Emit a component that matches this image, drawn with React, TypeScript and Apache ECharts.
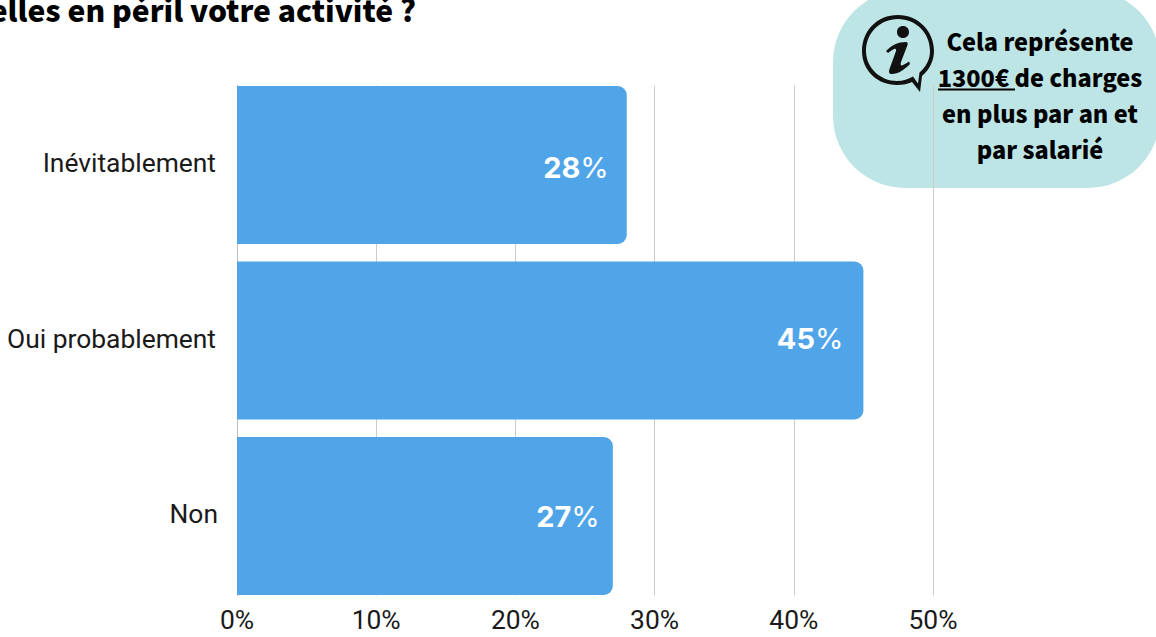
import React, { useEffect, useRef } from "react";
import * as echarts from "echarts";

const categories = ["Inévitablement", "Oui probablement", "Non"];
const values = [28, 45, 27];
const xTicks = [0, 10, 20, 30, 40, 50];
const titleText = "elles en péril votre activité ?";
const noteLines = ["Cela représente", "1300€ de charges", "en plus par an et", "par salarié"];

// Per-item nudges seen in the picture
const labelDistance = [18, 20, 13];
const labelDy = [2, -2, 0];
const catPadding = [[0, 0, 4, 0], [0, 0, 4, 0], [0, 0, 4, 0]];
const catDx = [0, 0, -2];

const ICON_D =
  "M898 15 C877 15 862 31 862 51 C862 71 878 85 897 85 C903 85 908 84 912 82 L920 92 L922 76 C930 69 934 60 934 51 C934 31 918 15 898 15 Z " +
  "M898 19 C916 19 930 33 930 51 C930 59 926.500 66.500 919.500 72.500 L918 83.500 L913 76.500 C908.500 79 903 81 897 81 C880 81 866 67.500 866 51 C866 33 880 19 898 19 Z " +
  "M903 26 C906.500 26 909 28.500 909 32 C909 35.500 906.500 38 903 38 C899.500 38 897 35.500 897 32 C897 28.500 899.500 26 903 26 Z " +
  "M886 51 C892 45 898 42 906 42 C907.500 42 908 43 907.500 45 L901 62 C900 65 901 66 903 65 C905 64 907 63 909 61.500 L910 64 C904 70 898 74 892 74 C889 74 888.500 72 889.500 69 L896 51 C896.500 49 895.500 48.500 894 49 C892 50 890 51.500 888 53 Z";

echarts.graphic.registerShape("infoIcon", echarts.graphic.extendPath(ICON_D, {}));

const labelFont = "Roboto";
const noteFont = "'Noto Sans CJK SC'";
const axisFontSize = 26.4;

export default function App() {
  const ref = useRef<HTMLDivElement>(null);
  useEffect(() => {
    const chart = echarts.init(ref.current!, undefined, { renderer: "svg" });
    const noteY = [41, 77, 113, 149];
    chart.setOption({
      animation: false,
      backgroundColor: "#ffffff",
      grid: [
        { left: 237, top: 77.25, width: 696, height: 526.5 },
        { left: 237, top: 85.5, width: 696, height: 510 },
      ],
      xAxis: [
        { type: "value", gridIndex: 0, min: 0, max: 50, interval: 10, show: false },
        {
          type: "value",
          gridIndex: 1,
          min: xTicks[0],
          max: xTicks[xTicks.length - 1],
          interval: 10,
          axisLine: { show: false },
          axisTick: { show: false },
          splitLine: { show: true, lineStyle: { color: "#cccccc", width: 1 } },
          axisLabel: {
            formatter: "{value}%",
            fontFamily: labelFont,
            fontSize: axisFontSize,
            color: "#1a1a1a",
            margin: 11,
          },
        },
      ],
      yAxis: [
        {
          type: "category",
          gridIndex: 0,
          inverse: true,
          data: categories.map((c, i) => ({
            value: c,
            textStyle: { padding: catPadding[i] },
          })),
          axisLine: { show: false },
          axisTick: { show: false },
          splitLine: { show: false },
          axisLabel: {
            fontFamily: labelFont,
            fontSize: axisFontSize,
            color: "#1a1a1a",
            margin: 21,
            formatter: (v: string) => {
              const i = categories.indexOf(v);
              return catDx[i] ? `{n|${v}}` : v;
            },
            rich: { n: { padding: [0, -2, 0, 0], fontFamily: labelFont, fontSize: axisFontSize, color: "#1a1a1a" } },
          },
        },
        {
          type: "category",
          gridIndex: 1,
          data: categories,
          axisLine: { show: true, lineStyle: { color: "#bdbdbd", width: 1 } },
          axisTick: { show: false },
          axisLabel: { show: false },
          splitLine: { show: false },
        },
      ],
      series: [
        {
          type: "bar",
          xAxisIndex: 0,
          yAxisIndex: 0,
          barCategoryGap: "10%",
          itemStyle: { color: "#50A5E8", borderRadius: [0, 9, 9, 0] },
          data: values.map((v, i) => ({
            value: v,
            label: { distance: labelDistance[i], offset: [0, labelDy[i]] },
          })),
          label: {
            show: true,
            position: "insideRight",
            formatter: (p: any) => `{n|${p.value}}{p|%}`,
            rich: {
              n: { fontFamily: "Inter", fontWeight: 700, fontSize: 29, color: "#ffffff" },
              p: { fontFamily: "Inter", fontWeight: 400, fontSize: 29, color: "#ffffff" },
            },
          },
        },
      ],
      graphic: [
        {
          type: "rect",
          z: -1,
          shape: { x: 833, y: -10, width: 327, height: 198, r: 72 },
          style: { fill: "#BEE5E5" },
        },
        {
          type: "text",
          z: 10,
          x: 416,
          y: 9,
          style: {
            text: titleText,
            align: "right",
            verticalAlign: "middle",
            font: `900 30px ${noteFont}`,
            fill: "#000000",
          },
        },
        ...noteLines.map((t, i) => ({
          type: "text",
          z: 10,
          x: 1040,
          y: noteY[i],
          style: {
            text: t,
            align: "center",
            verticalAlign: "middle",
            font: `900 23.5px ${noteFont}`,
            fill: "#000000",
          },
        })),
        {
          type: "line",
          z: 10,
          shape: { x1: 938, y1: 89.5, x2: 1015, y2: 89.5 },
          style: { stroke: "#000000", lineWidth: 2 },
        },
        { type: "infoIcon", z: 10, x: 0, y: 0, style: { fill: "#111111" } },
      ],
    });
    return () => chart.dispose();
  }, []);
  return (
    <div
      ref={ref}
      style={{ position: "fixed", left: 0, top: 0, width: 1156, height: 637 }}
    />
  );
}
